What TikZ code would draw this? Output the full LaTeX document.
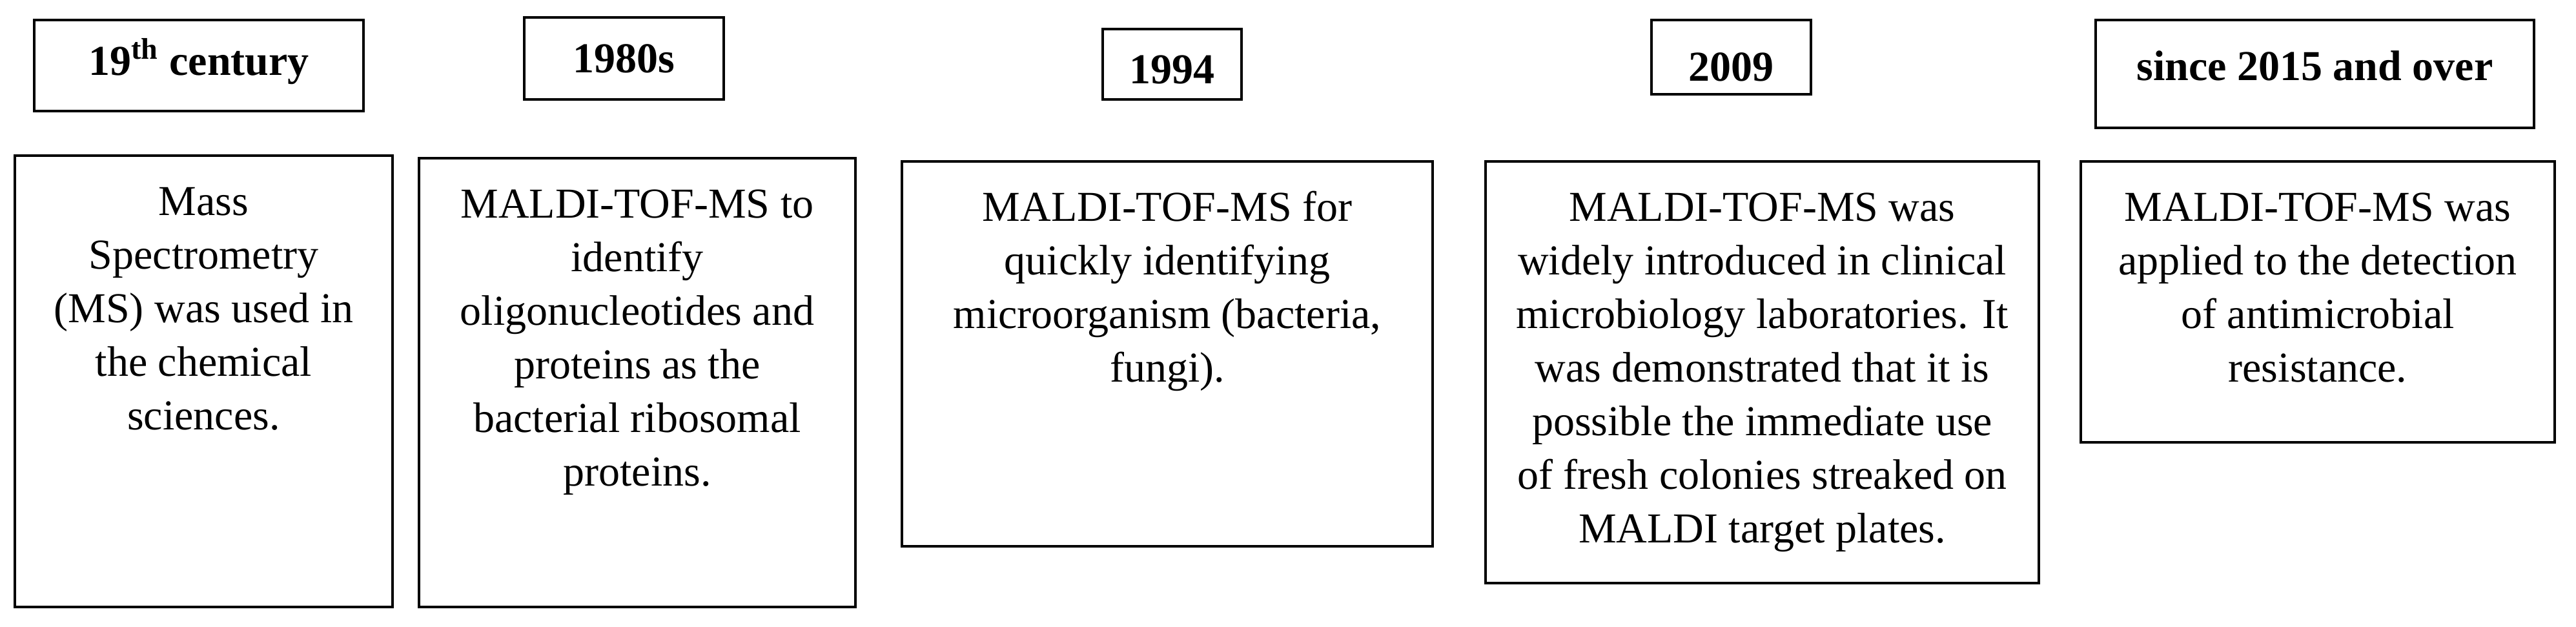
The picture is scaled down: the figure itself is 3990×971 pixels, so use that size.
\documentclass[tikz,border=0pt]{standalone}
\usepackage{fontspec}
\setmainfont{Liberation Serif}
\begin{document}
\begin{tikzpicture}[x=0.25pt,y=-0.25pt,
  box/.style={draw,line width=1.1pt,inner sep=0pt,outer sep=0pt,anchor=north west},
  desc/.style={anchor=north,align=center,inner sep=0pt,font=\fontsize{16.5pt}{20.75pt}\selectfont},
  title/.style={anchor=base,inner sep=0pt,font=\fontsize{16.5pt}{20pt}\selectfont\bfseries}]
\useasboundingbox[fill=white] (0,0) rectangle (3990,971);
% top boxes
\node[box,minimum width=127.5pt,minimum height=35.25pt] (t1) at (53,31) {};
\node[box,minimum width=77.25pt,minimum height=31.75pt] (t2) at (812,27) {};
\node[box,minimum width=53.75pt,minimum height=27.25pt] (t3) at (1708,45) {};
\node[box,minimum width=61.75pt,minimum height=28.75pt] (t4) at (2558,31) {};
\node[box,minimum width=169.75pt,minimum height=41.75pt] (t5) at (3246,31) {};
\node[title] (l1) at ([yshift=-21.5pt]t1.north) {19\textsuperscript{th} century};
\node[title] (l2) at ([yshift=-21.5pt]t2.north) {1980s};
\node[title] (l3) at ([yshift=-21.25pt]t3.north) {1994};
\node[title] (l4) at ([yshift=-23.75pt]t4.north) {2009};
\node[title] (l5) at ([yshift=-23.5pt]t5.north) {since 2015 and over};
% bottom boxes
\node[box,minimum width=146.25pt,minimum height=174.75pt] (b1) at (23,241) {};
\node[box,minimum width=169pt,minimum height=173.75pt] (b2) at (649,245) {};
\node[box,minimum width=205.5pt,minimum height=149pt] (b3) at (1397,250) {};
\node[box,minimum width=214.25pt,minimum height=163.25pt] (b4) at (2301,250) {};
\node[box,minimum width=183.5pt,minimum height=108.75pt] (b5) at (3223,250) {};
\node[desc] (d1) at ([yshift=-8.5pt]b1.north) {\strut Mass\\Spectrometry\\(MS) was used in\\the chemical\\sciences.};
\node[desc] (d2) at ([yshift=-8.5pt]b2.north) {\strut MALDI-TOF-MS to\\identify\\oligonucleotides and\\proteins as the\\bacterial ribosomal\\proteins.};
\node[desc] (d3) at ([yshift=-8.5pt]b3.north) {\strut MALDI-TOF-MS for\\quickly identifying\\microorganism (bacteria,\\fungi).};
\node[desc] (d4) at ([yshift=-8.5pt]b4.north) {\strut MALDI-TOF-MS was\\widely introduced in clinical\\microbiology laboratories. It\\was demonstrated that it is\\possible the immediate use\\of fresh colonies streaked on\\MALDI target plates.};
\node[desc] (d5) at ([yshift=-8.5pt]b5.north) {\strut MALDI-TOF-MS was\\applied to the detection\\of antimicrobial\\resistance.};
\end{tikzpicture}
\end{document}
